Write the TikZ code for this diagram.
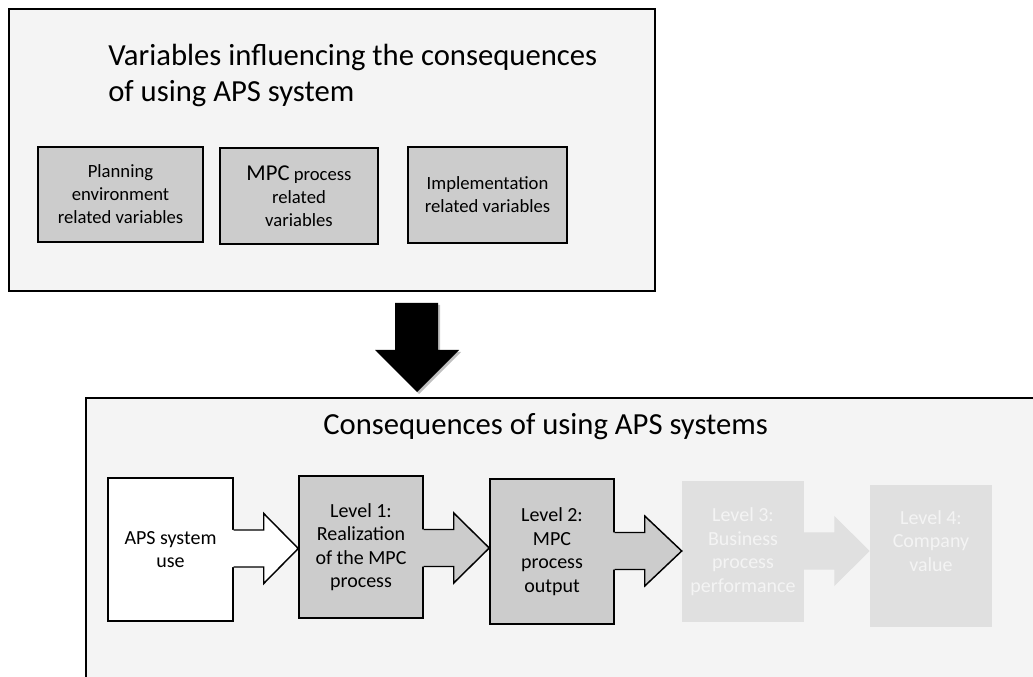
\documentclass[tikz,border=0pt]{standalone}
\usepackage{fontspec}
\setmainfont{Carlito}
\usetikzlibrary{calc}

\definecolor{panelbg}{HTML}{F4F4F4}
\definecolor{boxgray}{HTML}{CCCCCC}
\definecolor{fadedbox}{HTML}{E0E0E0}
\definecolor{fadedtext}{HTML}{F4F4F4}

\tikzset{
  panel/.style={draw=black, line width=1.1pt, fill=panelbg},
  varbox/.style={draw=black, line width=1.1pt, fill=boxgray, inner sep=0pt,
    align=center, font=\fontsize{14pt}{17.3pt}\selectfont},
  levelbox/.style={draw=black, line width=1.1pt, fill=boxgray, inner sep=0pt,
    align=center, font=\fontsize{15pt}{17.6pt}\selectfont},
  fadedlevel/.style={fill=fadedbox, inner sep=0pt, text=fadedtext,
    align=center, font=\fontsize{15pt}{17.6pt}\selectfont},
  bigtitle/.style={inner sep=0pt, align=left, font=\fontsize{23pt}{27.7pt}\selectfont},
}

% filled block arrow from the east side of #1 to the west side of #2, centred at height #3
\newcommand\blockarrow[4]{%
  \fill[#4] ($(#1.east |- 0,#3)+(-1.5,-18.5)$) -- ($(#1.east |- 0,#3)+(30,-18.5)$)
    -- ($(#1.east |- 0,#3)+(30,-35)$) -- (#2.west |- 0,#3)
    -- ($(#1.east |- 0,#3)+(30,35)$) -- ($(#1.east |- 0,#3)+(30,18.5)$)
    -- ($(#1.east |- 0,#3)+(-1.5,18.5)$) -- cycle;
}
% outline of the same arrow, open on the side that joins the box
\newcommand\blockarrowline[3]{%
  \draw[line width=1.1pt, line join=miter] ($(#1.east |- 0,#3)+(0,-18.5)$) -- ($(#1.east |- 0,#3)+(30,-18.5)$)
    -- ($(#1.east |- 0,#3)+(30,-35)$) -- (#2.west |- 0,#3)
    -- ($(#1.east |- 0,#3)+(30,35)$) -- ($(#1.east |- 0,#3)+(30,18.5)$)
    -- ($(#1.east |- 0,#3)+(0,18.5)$);
}

\begin{document}
\begin{tikzpicture}[x=0.75pt, y=-0.75pt]
  \useasboundingbox (0,0) rectangle (1033,677);
  \clip (0,0) rectangle (1033,677);

  % upper panel: influencing variables
  \draw[panel] (9,9) rectangle (655,291);
  \node[bigtitle, anchor=base west] (vartitle) at (108,102)
    {Variables influencing the consequences\\of using APS system};

  \node[varbox, minimum width=165*0.75pt, minimum height=95*0.75pt] (planenv) at (120.5,194.5)
    {Planning\\environment\\related variables};
  \node[varbox, minimum width=158*0.75pt, minimum height=96*0.75pt] (mpcvar) at (299,196)
    {{\fontsize{17pt}{17.3pt}\selectfont MPC} process\\related\\variables};
  \node[varbox, minimum width=159*0.75pt, minimum height=96*0.75pt] (implvar) at (487.5,195)
    {Implementation\\related variables};

  % big downward arrow between the panels
  \fill[black, opacity=0.25] (397,305) -- (440,305) -- (440,352) -- (461,352) -- (419,394)
    -- (377,352) -- (397,352) -- cycle;
  \fill[black] (395,303) -- (438,303) -- (438,350) -- (459,350) -- (417,392)
    -- (375,350) -- (395,350) -- cycle;

  % lower panel: consequences
  \draw[panel] (86,398) rectangle (1050,700);
  \node[bigtitle, anchor=base west] (contitle) at (323,435) {Consequences of using APS systems};

  \node[levelbox, fill=white, minimum width=125*0.75pt, minimum height=143*0.75pt] (apsuse)
    at (170.5,549.5) {APS system\\use};
  \node[levelbox, minimum width=124*0.75pt, minimum height=142*0.75pt] (level1)
    at (361,547) {Level 1:\\Realization\\of the MPC\\process};
  \node[levelbox, minimum width=124*0.75pt, minimum height=145*0.75pt] (level2)
    at (552,551.5) {Level 2:\\MPC\\process\\output};
  \node[fadedlevel, minimum width=122*0.75pt, minimum height=141*0.75pt] (level3)
    at (743,551.5) {Level 3:\\Business\\process\\performance};
  \node[fadedlevel, minimum width=122*0.75pt, minimum height=142*0.75pt] (level4)
    at (931,556) {Level 4:\\Company\\value\\\strut};

  % arrows between the levels
  \blockarrow{apsuse}{level1}{548.5}{white}
  \blockarrowline{apsuse}{level1}{548.5}
  \blockarrow{level1}{level2}{548}{boxgray}
  \blockarrowline{level1}{level2}{548}
  \blockarrow{level2}{level3}{551}{boxgray}
  \blockarrowline{level2}{level3}{551}
  \blockarrow{level3}{level4}{551}{fadedbox}
\end{tikzpicture}
\end{document}
